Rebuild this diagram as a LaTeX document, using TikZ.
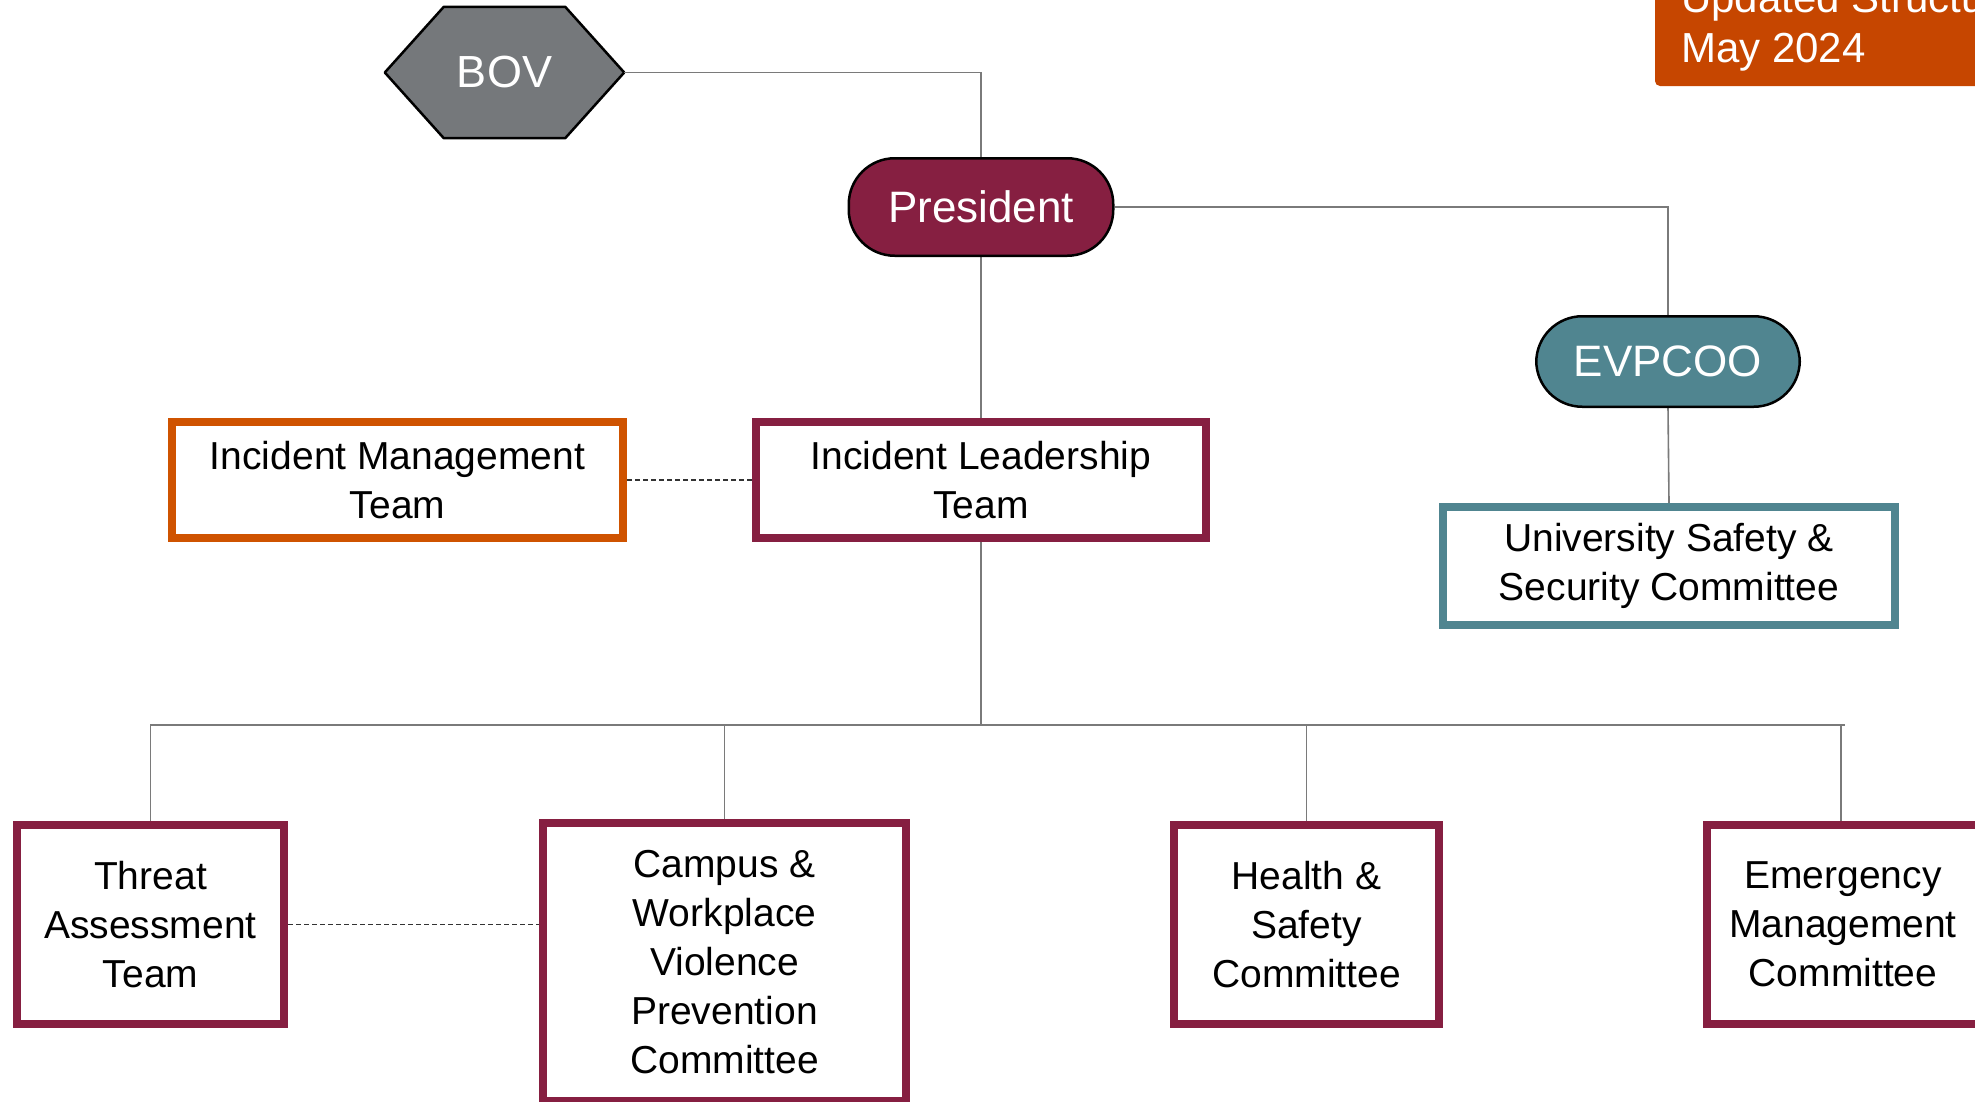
\documentclass[tikz,border=0pt]{standalone}
\usepackage{fontspec}
\setmainfont{Liberation Sans}
\usetikzlibrary{backgrounds,calc}
\definecolor{vtmaroon}{HTML}{861F41}
\definecolor{vtorange}{HTML}{CF5300}
\definecolor{notebg}{HTML}{C64600}
\definecolor{vtteal}{HTML}{508590}
\definecolor{vtgray}{HTML}{75787B}
\definecolor{linegray}{HTML}{7A7A7A}
\begin{document}
\begin{tikzpicture}[x=1pt,y=-1pt,
  boxtext/.style={font=\fontsize{39}{49}\selectfont, align=center, text=black},
  unitbox/.style={boxtext, draw=vtmaroon, line width=8pt, fill=white, inner sep=0pt},
  pill/.style={draw=black, line width=2.5pt, rounded corners=46pt, inner sep=0pt,
    text=white, font=\fontsize{44}{50}\selectfont},
  conn/.style={draw=linegray, line width=1.6pt},
  dashconn/.style={draw=black!80, line width=1.2pt, dash pattern=on 5pt off 3pt},
  notetext/.style={text=white, font=\fontsize{42}{50}\selectfont, inner sep=0pt, anchor=base west}
]
\useasboundingbox (0,0) rectangle (1975,1101);
\clip (0,0) rectangle (1975,1101);

% note box top right
\fill[notebg, rounded corners=5pt] (1655,-30) rectangle (2010,86);
\node[notetext] (upd1) at (1681,12) {Updated Structure};
\node[notetext] (upd2) at (1681,62) {May 2024};

% BOV hexagon
\node[text=white, font=\fontsize{45}{50}\selectfont, minimum width=239pt, minimum height=131pt, inner sep=0pt] (bov) at (504.5,72.5) {BOV};
\begin{scope}[on background layer]
\filldraw[fill=vtgray, draw=black, line width=2.5pt, line join=round]
  (bov.west) -- ([xshift=59pt]bov.north west) -- ([xshift=-59pt]bov.north east)
  -- (bov.east) -- ([xshift=-59pt]bov.south east) -- ([xshift=59pt]bov.south west) -- cycle;
\end{scope}

% President and EVPCOO
\node[pill, fill=vtmaroon, minimum width=264.5pt, minimum height=97.5pt] (pres) at (981,207) {President};
\node[pill, fill=vtteal, minimum width=263.5pt, minimum height=90.5pt] (evp) at (1668,361.5) {EVPCOO};

% boxes
\node[unitbox, draw=vtorange, minimum width=451pt, minimum height=116pt] (imt) at (397.5,480) {Incident Management\\Team};
\node[unitbox, minimum width=450pt, minimum height=116pt] (ilt) at (981,480) {Incident Leadership\\Team};
\node[unitbox, draw=vtteal, minimum width=452pt, minimum height=118pt] (ussc) at (1669,566) {University Safety \&\\Security Committee};

\node[unitbox, minimum width=267pt, minimum height=199pt] (tat) at (150.5,924.5) {Threat\\Assessment\\Team};
\node[unitbox, minimum width=363pt, minimum height=278pt] (cwv) at (724.5,962) {Campus \&\\Workplace\\Violence\\Prevention\\Committee};
\node[unitbox, minimum width=265pt, minimum height=199pt] (hsc) at (1306.5,924.5) {Health \&\\Safety\\Committee};
\node[unitbox, minimum width=272pt, minimum height=199pt] (emc) at (1843,924.5) {Emergency\\Management\\Committee};

% connectors
\begin{scope}[on background layer]
\draw[conn] (bov.east) -| (pres.north);
\draw[conn] (pres.east) -| (evp.north);
\draw[conn] (evp.south) -- (ussc.north);
\draw[conn] (pres.south) -- (ilt.north);
\coordinate (busL) at (150,725);
\coordinate (busR) at (1845,725);
\draw[conn] (ilt.south) -- (ilt.south |- busL);
\draw[conn] (busL) -- (busR);
\draw[conn] (tat.north |- busL) -- (tat.north);
\draw[conn] (cwv.north |- busL) -- (cwv.north);
\draw[conn] (hsc.north |- busL) -- (hsc.north);
\draw[conn] ([xshift=-2pt]emc.north |- busL) -- ([xshift=-2pt]emc.north);
\end{scope}
\draw[dashconn] (imt.east) -- (ilt.west);
\draw[dashconn] (tat.east) -- (tat.east -| cwv.west);
\end{tikzpicture}
\end{document}
